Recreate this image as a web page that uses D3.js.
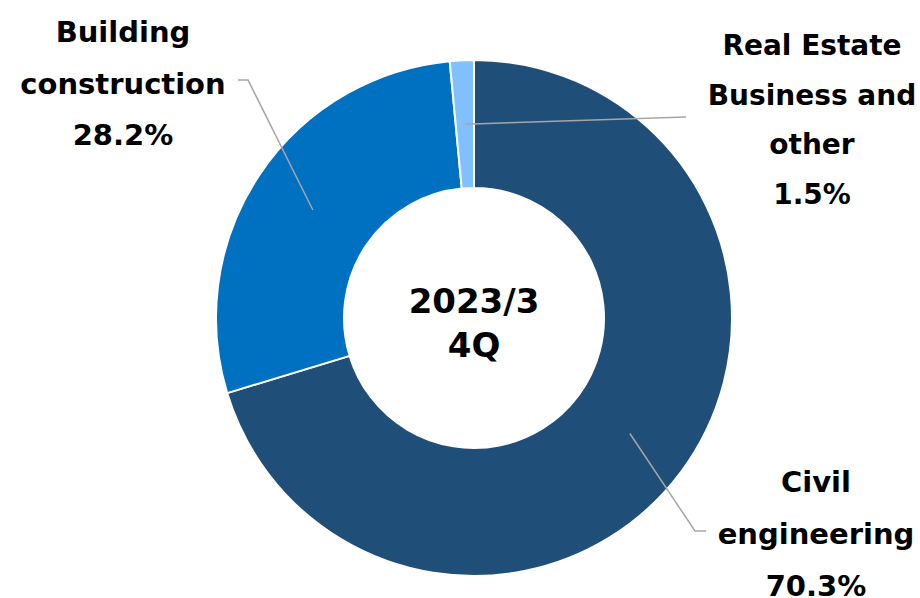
<!DOCTYPE html>
<html>
<head>
<meta charset="utf-8">
<script src="https://cdn.jsdelivr.net/npm/d3@7"></script>
<style>
	html, body { margin: 0; padding: 0; background: #fff; }
	text { font-family: "DejaVu Sans", Verdana, sans-serif; font-weight: bold; fill: #000; }
</style>
</head>
<body>
<div id="chart"></div>
<script>
// Segment shares, in drawing order (clockwise from 12 o'clock)
const segments = ["Civil engineering", "Building construction", "Real Estate Business and other"];
const shares = [70.3, 28.2, 1.5];
const colors = ["#1F4E79", "#0070C0", "#80C0FF"];
const labelLines = [
	["Civil", "engineering", "70.3%"],
	["Building", "construction", "28.2%"],
	["Real Estate", "Business and", "other", "1.5%"],
];
const centerLines = ["2023/3", "4Q"];

const width = 920;
const height = 598;
const cx = 474, cy = 318;
const outerRadius = 258;
const innerRadius = 130;

const svg = d3.select("#chart")
	.append("svg")
	.attr("width", width)
	.attr("height", height);

const g = svg.append("g")
	.attr("transform", `translate(${cx},${cy})`);

const pie = d3.pie()
	.sort(null)
	.value((d) => d);

const arcs = pie(shares);

const arc = d3.arc()
	.innerRadius(innerRadius)
	.outerRadius(outerRadius);

g.append("g")
	.selectAll("path")
	.data(arcs)
	.join("path")
	.attr("d", arc)
	.attr("fill", (d, i) => colors[i])
	.attr("stroke", "#fff")
	.attr("stroke-width", 2);

// Leader lines: from the middle of the ring out to the label
const midRadius = (innerRadius + outerRadius) / 2;
const leaders = [
	{ elbow: [695, 531], end: [706, 531] },
	{ elbow: [248, 80], end: [238, 80] },
	{ elbow: [686, 117], end: [686, 117] },
];

g.append("g")
	.attr("fill", "none")
	.attr("stroke", "#A6A6A6")
	.attr("stroke-width", 1.5)
	.selectAll("polyline")
	.data(arcs)
	.join("polyline")
	.attr("points", (d, i) => {
		const a = (d.startAngle + d.endAngle) / 2;
		const p0 = [Math.sin(a) * midRadius, -Math.cos(a) * midRadius];
		const p1 = [leaders[i].elbow[0] - cx, leaders[i].elbow[1] - cy];
		const p2 = [leaders[i].end[0] - cx, leaders[i].end[1] - cy];
		return [p0, p1, p2].map((p) => p.join(",")).join(" ");
	});

// Labels
const labelPos = [
	{ x: 816, y: 492, step: 52, size: 29 },
	{ x: 123, y: 42, step: 51.5, size: 29 },
	{ x: 812, y: 55, step: 49.5, size: 28 },
];

svg.append("g")
	.selectAll("text")
	.data(labelLines)
	.join("text")
	.attr("text-anchor", "middle")
	.attr("font-size", (d, i) => labelPos[i].size)
	.each(function(lines, i) {
		d3.select(this)
			.selectAll("tspan")
			.data(lines)
			.join("tspan")
			.attr("x", labelPos[i].x)
			.attr("y", (d, j) => labelPos[i].y + j * labelPos[i].step)
			.text((d) => d);
	});

// Center label
svg.append("text")
	.attr("text-anchor", "middle")
	.attr("font-size", 34)
	.selectAll("tspan")
	.data(centerLines)
	.join("tspan")
	.attr("x", cx)
	.attr("y", (d, j) => 313 + j * 44)
	.text((d) => d);
</script>
</body>
</html>
